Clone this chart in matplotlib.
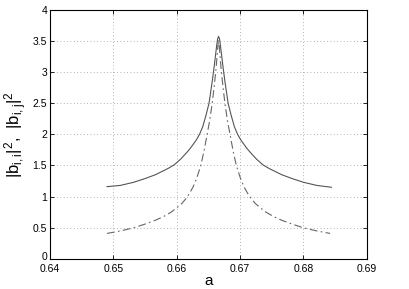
import numpy as np
import matplotlib.pyplot as plt
import matplotlib.transforms as mtransforms

plt.rcParams['font.family'] = ['Liberation Sans', 'DejaVu Sans']
plt.rcParams['mathtext.default'] = 'regular'

# values
a_solid = [0.6490, 0.6511, 0.6532, 0.6550, 0.6566, 0.6576, 0.6586, 0.6596,
           0.6606, 0.6616, 0.6621, 0.6626, 0.6631, 0.6636, 0.6641, 0.6646,
           0.6651, 0.6656, 0.6659, 0.6661, 0.6663, 0.66645, 0.6666,
           0.66675, 0.6669, 0.6671, 0.6673, 0.6676, 0.6681, 0.6686, 0.6691,
           0.6696, 0.6701, 0.6706, 0.6711, 0.6716, 0.6726, 0.6736, 0.6746,
           0.6756, 0.6766, 0.6782, 0.6800, 0.6821, 0.6844]
b_ii = [1.16, 1.18, 1.23, 1.29, 1.35, 1.40, 1.45, 1.51,
        1.60, 1.71, 1.77, 1.84, 1.91, 2.00, 2.12, 2.30,
        2.50, 2.85, 3.08, 3.25, 3.42, 3.53, 3.57,
        3.53, 3.42, 3.25, 3.08, 2.85, 2.50, 2.30, 2.12,
        2.00, 1.91, 1.84, 1.77, 1.71, 1.60, 1.51, 1.45,
        1.40, 1.35, 1.29, 1.23, 1.18, 1.15]

a_dash = [0.6490, 0.6511, 0.6532, 0.6550, 0.6566, 0.6579, 0.6591, 0.6600,
          0.6608, 0.6614, 0.6620, 0.6626, 0.6632, 0.6638, 0.6643, 0.6648,
          0.6652, 0.6656, 0.6659, 0.6662, 0.6664, 0.6665, 0.6666,
          0.6667, 0.6668, 0.6670, 0.6673, 0.6676, 0.6680, 0.6684, 0.6689,
          0.6694, 0.6700, 0.6706, 0.6712, 0.6718, 0.6724, 0.6732, 0.6741,
          0.6753, 0.6766, 0.6782, 0.6800, 0.6821, 0.6842]
b_ij = [0.41, 0.45, 0.50, 0.56, 0.62, 0.68, 0.75, 0.82,
        0.89, 0.96, 1.05, 1.16, 1.31, 1.50, 1.73, 2.00,
        2.22, 2.50, 2.76, 3.05, 3.30, 3.43, 3.52,
        3.43, 3.30, 3.05, 2.76, 2.50, 2.22, 2.00, 1.73,
        1.50, 1.31, 1.16, 1.05, 0.96, 0.89, 0.82, 0.75,
        0.68, 0.62, 0.56, 0.50, 0.45, 0.41]

fig = plt.figure(figsize=(4.09, 2.89), dpi=100)
ax = fig.add_axes([0.1222, 0.1038, 0.7748, 0.8632])

ax.plot(a_solid, b_ii, '-', color='#555555', linewidth=0.8)
ax.plot(a_dash, b_ij, color='#666666', linewidth=0.8, linestyle=(0, (7, 3, 1.5, 3)))

ax.set_xlim(0.64, 0.69)
ax.set_ylim(0, 4)
ax.set_xticks(np.arange(0.64, 0.6901, 0.01))
ax.set_xticklabels(['0.64', '0.65', '0.66', '0.67', '0.68', '0.69'])
ax.set_yticks(np.arange(0, 4.01, 0.5))
ax.set_yticklabels(['0', '0.5', '1', '1.5', '2', '2.5', '3', '3.5', '4'])
ax.grid(True, linestyle=(0, (1, 3)), color='#999999', linewidth=0.6)
ax.tick_params(direction='in', labelsize=7.5, length=3, width=0.6, top=True, right=True, pad=2)
ax.tick_params(axis='x', pad=3.5)
for s in ax.spines.values():
    s.set_linewidth(0.8)

# lift the "0" a little, as in the original
zero_lbl = ax.get_yticklabels()[0]
zero_lbl.set_transform(zero_lbl.get_transform() + mtransforms.ScaledTranslation(0, 2.5 / 72, fig.dpi_scale_trans))

ax.set_xlabel('a', fontsize=11, labelpad=0)
ax.set_ylabel(r'$|b_{i,i}|^2,\ |b_{i,j}|^2$', fontsize=12, labelpad=3)

fig.savefig('out.png', dpi=100)
